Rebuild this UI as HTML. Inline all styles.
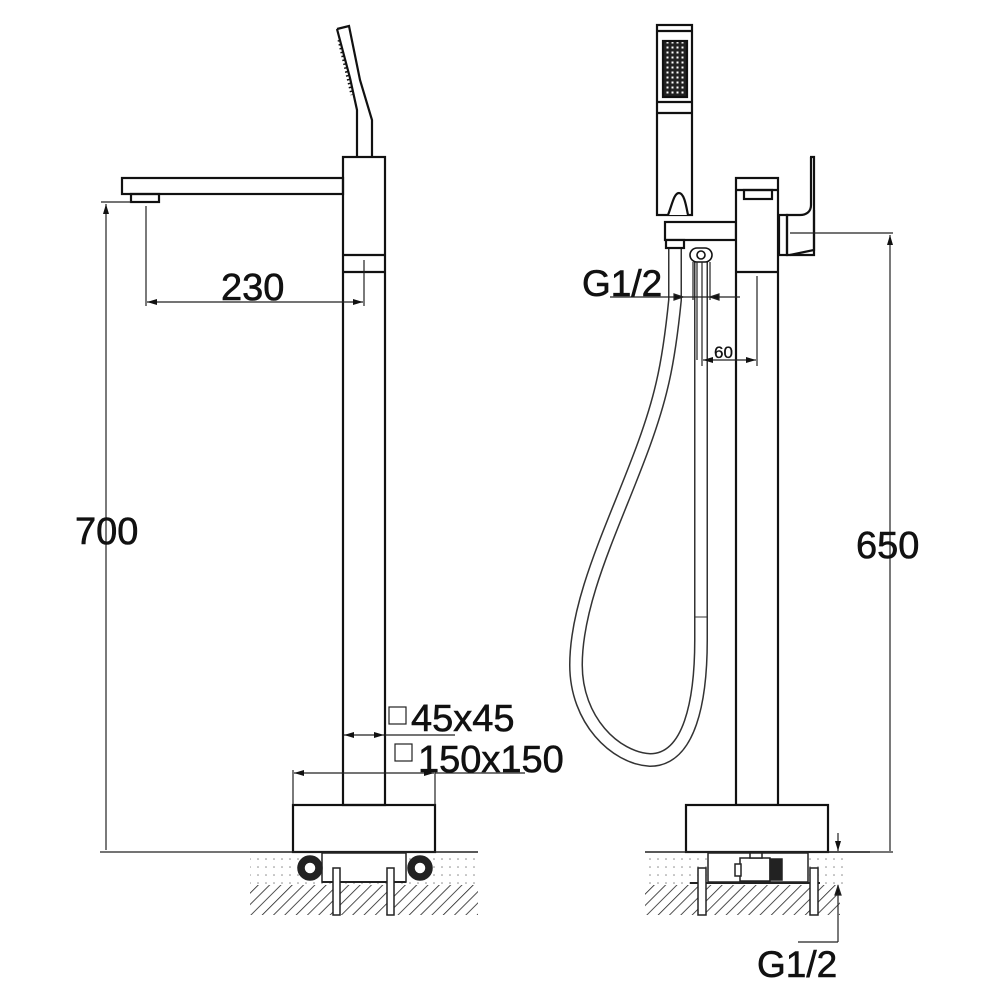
<!DOCTYPE html>
<html><head><meta charset="utf-8"><style>
html,body{margin:0;padding:0;background:#fff}
svg{display:block}
text{font-family:"Liberation Sans",Arial,sans-serif;fill:#111;stroke:#111;stroke-width:0.6}
</style></head><body>
<svg width="1000" height="1000" viewBox="0 0 1000 1000" xmlns="http://www.w3.org/2000/svg">
<defs>
<pattern id="hatch" width="8" height="8" patternUnits="userSpaceOnUse" patternTransform="rotate(45)">
<line x1="0" y1="0" x2="0" y2="8" stroke="#222" stroke-width="1.6"/>
</pattern>
<pattern id="dots" width="8" height="8" patternUnits="userSpaceOnUse">
<circle cx="2" cy="3" r="0.8" fill="#888"/>
</pattern>
<pattern id="grid" width="5" height="5" patternUnits="userSpaceOnUse">
<rect width="5" height="5" fill="#222"/>
<rect x="1.5" y="1.5" width="2" height="2" fill="#fff"/>
</pattern>
<marker id="ar" viewBox="0 0 10 6" refX="10" refY="3" markerWidth="10" markerHeight="6" orient="auto-start-reverse" markerUnits="userSpaceOnUse">
<path d="M0,0 L10,3 L0,6 z" fill="#111"/>
</marker>
</defs>

<g fill="none" stroke="#111" stroke-width="2.2">
<path d="M337,29 L349,26 L360,80 L372,120 L372,157 M337,29 L350,78 L357,110 L357,157"/>
<path d="M339,40 L352,95" stroke-dasharray="1.5,2.5" stroke-width="3"/>
<rect x="343" y="157" width="42" height="648"/>
<line x1="343" y1="255" x2="385" y2="255"/>
<line x1="343" y1="272" x2="385" y2="272"/>
<rect x="122" y="178" width="221" height="16"/>
<rect x="131" y="194" width="28" height="8"/>
<rect x="293" y="805" width="142" height="47"/>
</g>

<g fill="none" stroke="#222" stroke-width="1.2">
<line x1="101" y1="202" x2="131" y2="202"/>
<line x1="100" y1="852" x2="250" y2="852"/>
<line x1="106" y1="204" x2="106" y2="850" marker-start="url(#ar)"/>
<line x1="146" y1="206" x2="146" y2="306"/>
<line x1="364" y1="260" x2="364" y2="306"/>
<line x1="147" y1="302" x2="363" y2="302" marker-start="url(#ar)" marker-end="url(#ar)"/>
<line x1="344" y1="735" x2="384" y2="735" marker-start="url(#ar)" marker-end="url(#ar)"/>
<line x1="385" y1="735" x2="455" y2="735"/>
<line x1="293" y1="770" x2="293" y2="805"/>
<line x1="435" y1="770" x2="435" y2="805"/>
<line x1="294" y1="773" x2="434" y2="773" marker-start="url(#ar)" marker-end="url(#ar)"/>
<line x1="435" y1="773" x2="525" y2="773"/>
<rect x="389" y="707" width="17" height="17"/>
<rect x="395" y="744" width="17" height="17"/>
</g>

<rect x="250" y="853" width="228" height="31" fill="url(#dots)"/>
<rect x="250" y="885" width="228" height="30" fill="url(#hatch)"/>
<g stroke="#222" stroke-width="1.5">
<line x1="250" y1="852" x2="478" y2="852"/>
<rect x="322" y="853" width="84" height="29" fill="#fff"/>
<line x1="322" y1="882" x2="406" y2="882" stroke-width="2"/>
<circle cx="310" cy="868" r="12" fill="#222"/>
<circle cx="310" cy="868" r="6" fill="#fff"/>
<circle cx="420" cy="868" r="12" fill="#222"/>
<circle cx="420" cy="868" r="6" fill="#fff"/>
<rect x="333" y="868" width="7" height="47" fill="#fff"/>
<rect x="387" y="868" width="7" height="47" fill="#fff"/>
</g>

<text x="75" y="544" font-size="38">700</text>
<text x="221" y="300" font-size="38">230</text>
<text x="411" y="731" font-size="38">45x45</text>
<text x="418" y="772" font-size="38">150x150</text>

<path d="M675,240 L675,300 C672,330 668,360 662,385 C640,480 576,580 576,665 C576,720 615,758 650,760 C690,760 701,700 701,640 L701,255" fill="none" stroke="#333" stroke-width="14"/>
<path d="M675,240 L675,300 C672,330 668,360 662,385 C640,480 576,580 576,665 C576,720 615,758 650,760 C690,760 701,700 701,640 L701,255" fill="none" stroke="#fff" stroke-width="11"/>
<line x1="695" y1="617" x2="707" y2="617" stroke="#333" stroke-width="1"/>

<g fill="none" stroke="#111" stroke-width="2.2">
<rect x="657" y="25" width="35" height="190" fill="#fff"/>
<line x1="657" y1="31" x2="692" y2="31"/>
<line x1="657" y1="102" x2="692" y2="102"/>
<line x1="657" y1="113" x2="692" y2="113"/>
<rect x="663" y="41" width="24" height="56" fill="url(#grid)"/>
<path d="M668,215 C672,205 674,193 679,193 C684,193 686,205 688,215" fill="#fff"/>
<rect x="665" y="222" width="71" height="18" fill="#fff"/>
<rect x="666" y="240" width="18" height="8" fill="#fff"/>
<rect x="736" y="178" width="42" height="627" fill="#fff"/>
<line x1="736" y1="190" x2="778" y2="190"/>
<rect x="744" y="190" width="28" height="9"/>
<line x1="736" y1="272" x2="778" y2="272"/>
<path d="M810,157 L814,157 L814,250 L790,255" />
<path d="M811,157 L811,205 C811,212 806,215 800,215 L787,215 L787,255 L814,255 L814,210"/>
<rect x="779" y="215" width="8" height="40"/>
<rect x="686" y="805" width="142" height="47" fill="#fff"/>
</g>
<g stroke="#111" stroke-width="1.6" fill="#fff">
<rect x="690" y="248" width="22" height="14" rx="7"/>
<circle cx="701" cy="255" r="4"/>
</g>

<g fill="none" stroke="#222" stroke-width="1.2">
<line x1="610" y1="297" x2="740" y2="297"/>
<path d="M683,297 l-9,-3 v6z M710,297 l9,-3 v6z" fill="#111"/>
<line x1="693" y1="262" x2="693" y2="300"/>
<line x1="697" y1="262" x2="697" y2="360"/>
<line x1="710" y1="262" x2="710" y2="300"/>
<line x1="702" y1="262" x2="702" y2="366"/>
<line x1="757" y1="276" x2="757" y2="366"/>
<line x1="703" y1="360" x2="756" y2="360" marker-start="url(#ar)" marker-end="url(#ar)"/>
<line x1="790" y1="233" x2="893" y2="233"/>
<line x1="890" y1="235" x2="890" y2="851" marker-start="url(#ar)"/>
<line x1="828" y1="852" x2="893" y2="852"/>
<line x1="838" y1="833" x2="838" y2="851" marker-end="url(#ar)"/>
<line x1="838" y1="885" x2="838" y2="942" />
<path d="M838,886 l-3,9 h6z" fill="#111"/>
<line x1="838" y1="942" x2="798" y2="942"/>
</g>

<rect x="645" y="853" width="200" height="31" fill="url(#dots)"/>
<rect x="645" y="885" width="195" height="30" fill="url(#hatch)"/>
<g stroke="#222" stroke-width="1.5">
<line x1="645" y1="852" x2="870" y2="852"/>
<rect x="708" y="853" width="100" height="29" fill="#fff"/>
<line x1="690" y1="883" x2="820" y2="883" stroke-width="2"/>
<rect x="740" y="858" width="30" height="23" fill="#fff"/>
<rect x="770" y="859" width="12" height="21" fill="#222"/>
<rect x="735" y="864" width="6" height="12" fill="#fff"/>
<rect x="750" y="853" width="12" height="5" fill="#fff"/>
<rect x="698" y="868" width="8" height="47" fill="#fff"/>
<rect x="810" y="868" width="8" height="47" fill="#fff"/>
</g>

<text x="582" y="296" font-size="37">G1/2</text>
<text x="714" y="358" font-size="17" style="stroke-width:0.3">60</text>
<text x="856" y="558" font-size="38">650</text>
<text x="757" y="977" font-size="37">G1/2</text>
</svg>
</body></html>
